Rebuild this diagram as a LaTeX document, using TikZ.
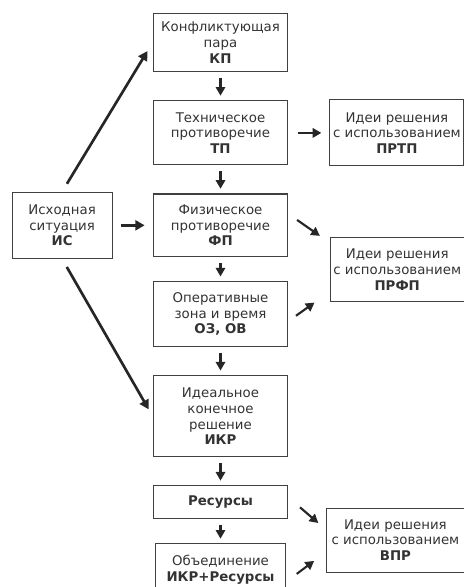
\documentclass[tikz,border=0pt]{standalone}
\usepackage{fontspec}
\setmainfont{DejaVu Sans}
\usetikzlibrary{positioning,arrows.meta,calc}
\tikzset{
  mid/.style={draw=black!75, line width=0.8pt, align=center, text=black!80, font=\fontsize{10}{11.8}\selectfont, inner sep=2pt, minimum width=101pt},
  side/.style={draw=black!75, line width=0.8pt, align=center, text=black!80, font=\fontsize{10}{11.8}\selectfont, inner sep=2pt},
  arr/.style={-{Triangle[length=6.5pt,width=7pt]}, line width=1.6pt, black!85},
  larr/.style={-{Triangle[length=7pt,width=7.5pt]}, line width=2pt, black!85},
  varr/.style={arr, shorten <=4pt, shorten >=3.5pt},
}
\begin{document}
\begin{tikzpicture}[x=0.75pt,y=-0.75pt,node distance=21pt and 30pt]
\useasboundingbox (0,0) rectangle (464,587);
% middle column
\node[mid, minimum height=44pt] (kp) at (220.5,42.5) {Конфликтующая\\пара\\\textbf{КП}};
\node[mid, minimum height=48pt, below=of kp] (tp) {Техническое\\противоречие\\\textbf{ТП}};
\node[mid, minimum height=47pt, below=of tp] (fp) {Физическое\\противоречие\\\textbf{ФП}};
\node[mid, minimum height=48.75pt, below=18pt of fp] (oz) {Оперативные\\зона и время\\\textbf{ОЗ, ОВ}};
\node[mid, minimum height=60.75pt, below=of oz] (ikr) {Идеальное\\конечное\\решение\\\textbf{ИКР}};
\node[mid, minimum height=24.75pt, below=of ikr] (res) {\textbf{Ресурсы}};
\node[mid, minimum width=97.5pt, minimum height=39pt, below=18pt of res] (ob) {Объединение\\\textbf{ИКР+Ресурсы}};
% side boxes
\node[side, minimum width=75pt, minimum height=49.5pt, left=30pt of fp] (is) {Исходная\\ситуация\\\textbf{ИС}};
\node[side, minimum width=100.5pt, minimum height=49.5pt, right=30.75pt of tp] (prtp) {Идеи решения\\с использованием\\\textbf{ПРТП}};
\coordinate (m1) at ($(fp.east)!0.5!(oz.east)$);
\node[side, minimum width=100.5pt, minimum height=48pt, right=31pt of m1] (prfp) {Идеи решения\\с использованием\\\textbf{ПРФП}};
\coordinate (m2) at ($(res.east)!0.5!(ob.east)$);
\node[side, minimum width=103.5pt, minimum height=48pt, right=29pt of m2, yshift=-3pt] (vpr) {Идеи решения\\с использованием\\\textbf{ВПР}};
% arrows
\foreach \a/\b in {kp/tp,tp/fp,fp/oz,oz/ikr,ikr/res,res/ob}
  \draw[varr] (\a) -- (\b);
\draw[larr, shorten <=7pt, shorten >=7.5pt] (is.north) -- (kp.west);
\draw[larr, shorten <=6pt, shorten >=6pt] (is) -- (fp);
\draw[larr, shorten <=7pt, shorten >=6pt] (is.south) -- (ikr.west);
\draw[arr, shorten <=7pt, shorten >=6pt] (tp) -- (prtp);
\draw[arr, shorten <=8pt, shorten >=9pt] ($(fp.east)+(0,-11.5)$) -- ($(prfp.west)+(0,-27)$);
\draw[arr, shorten <=7pt, shorten >=14pt] ($(oz.east)+(0,7)$) -- ($(prfp.west)+(0,22)$);
\draw[arr, shorten <=11.5pt, shorten >=7.5pt] ($(res.east)+(0,-5)$) -- ($(vpr.west)+(0,-10.6)$);
\draw[arr, shorten <=10pt, shorten >=11pt] ($(ob.east)+(0,12)$) -- ($(vpr.west)+(0,12)$);
\end{tikzpicture}
\end{document}
